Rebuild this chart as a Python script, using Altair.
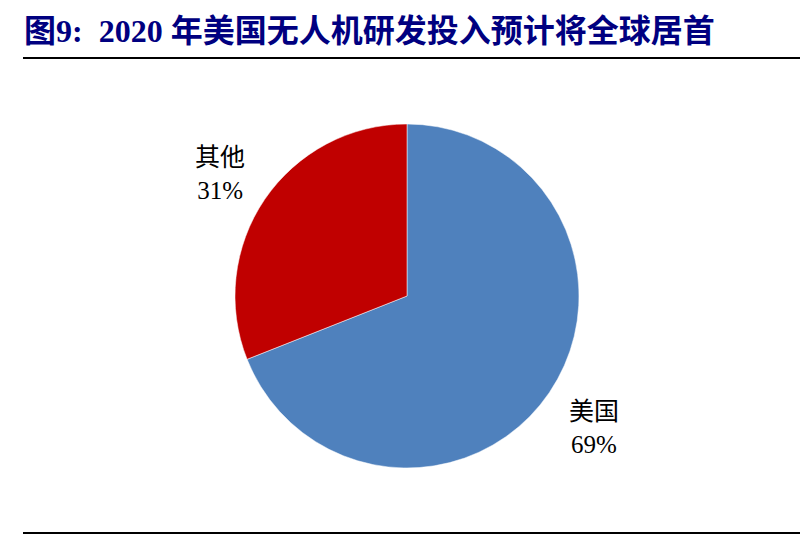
import altair as alt
import pandas as pd

# 数据
labels = ["美国", "其他"]
shares = [69, 31]
colors = ["#4F81BD", "#C00000"]
title_text = "图9:\u00a0\u00a02020\u00a0年美国无人机研发投入预计将全球居首"

df = pd.DataFrame({
    "region": labels,
    "share": shares,
    "order": list(range(len(labels))),
    "label": [f"{r}\n{s}%" for r, s in zip(labels, shares)],
})

W, H = 792, 528
cx, cy = 399, 288

base = alt.Chart(df).encode(
    theta=alt.Theta("share:Q", stack=True),
    order=alt.Order("order:Q"),
)

pie = base.mark_arc(outerRadius=172, stroke="white", strokeWidth=0.5).encode(
    color=alt.Color("region:N", scale=alt.Scale(domain=labels, range=colors), legend=None),
    x=alt.value(cx),
    y=alt.value(cy),
)

text = base.mark_text(
    radius=226, dy=-11, fontSize=25, font="Liberation Serif, Noto Sans CJK SC",
    lineBreak="\n", lineHeight=33, align="center", baseline="middle", color="black",
).encode(
    text="label:N",
    x=alt.value(cx),
    y=alt.value(cy),
)

title = alt.Chart(pd.DataFrame({"t": [title_text]})).mark_text(
    align="left", baseline="alphabetic", fontSize=32, fontWeight="bold",
    font="Liberation Serif, Noto Sans CJK SC", color="#000080",
).encode(text="t:N", x=alt.value(16), y=alt.value(34))

rule_top = alt.Chart(pd.DataFrame({"a": [0]})).mark_rule(color="black", strokeWidth=2).encode(
    x=alt.value(15), x2=alt.value(792), y=alt.value(50)
)
rule_bottom = alt.Chart(pd.DataFrame({"a": [0]})).mark_rule(color="black", strokeWidth=2).encode(
    x=alt.value(15), x2=alt.value(792), y=alt.value(525)
)

chart = alt.layer(pie, text, title, rule_top, rule_bottom).properties(
    width=W, height=H, autosize=alt.AutoSizeParams(type="none"), padding=0,
    background="white",
).configure_view(stroke=None)

chart.save("out.html", embed_options={"renderer": "svg", "actions": False})
